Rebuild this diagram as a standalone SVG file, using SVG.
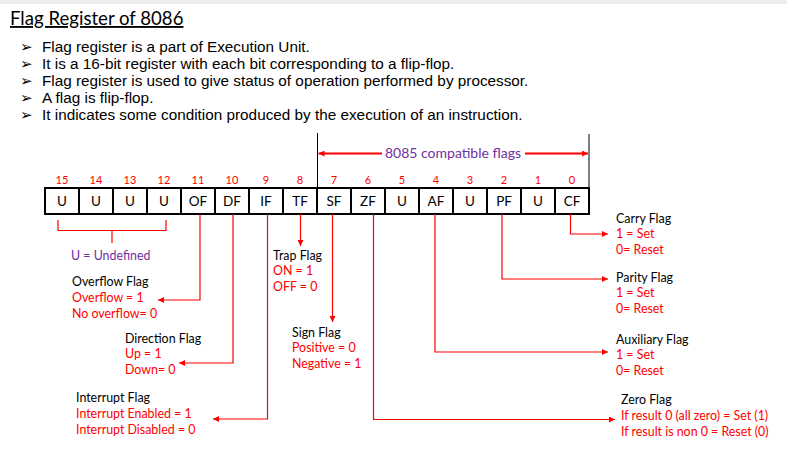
<svg xmlns="http://www.w3.org/2000/svg" width="787" height="454" viewBox="0 0 787 454">
<style>
.t{font-family:Lato,"Noto Sans",sans-serif;font-size:12.4px}
.k{fill:#000}
.r{fill:#FF0000}
.p{fill:#7030A0}
.b{font-family:"Liberation Sans",Arial,sans-serif;font-size:15.3px;fill:#000}
.bl{font-family:"DejaVu Sans",sans-serif;font-size:15px;font-weight:bold;fill:#000}
.cell{fill:#fff;stroke:#000;stroke-width:2}
.ct{font-family:Lato,"Noto Sans",sans-serif;font-size:13.5px;fill:#000;text-anchor:middle}
.num{font-family:Lato,"Noto Sans",sans-serif;font-size:11px;fill:#FF0000;text-anchor:middle}
.c{fill:none;stroke:#FF0000;stroke-width:1.2}
</style>
<defs>
<marker id="ah" viewBox="0 0 10 10" refX="10" refY="5" markerWidth="6" markerHeight="6" markerUnits="userSpaceOnUse" orient="auto">
<path d="M0,0 L10,5 L0,10 z" fill="#FF0000"/>
</marker>
</defs>
<rect x="0" y="0" width="787" height="454" fill="#fff"/>
<rect x="0" y="0" width="787" height="4" fill="#eeeeee"/>
<g id="title">
<text x="10" y="25" font-family="Lato,'Noto Sans',sans-serif" font-size="18.6" fill="#000" text-decoration="underline">Flag Register of 8086</text>
</g>
<g id="bullets">
<text x="20" y="52" class="bl">➢</text><text x="42" y="52" class="b">Flag register is a part of Execution Unit.</text>
<text x="20" y="69" class="bl">➢</text><text x="42" y="69" class="b">It is a 16-bit register with each bit corresponding to a flip-flop.</text>
<text x="20" y="86" class="bl">➢</text><text x="42" y="86" class="b">Flag register is used to give status of operation performed by processor.</text>
<text x="20" y="103" class="bl">➢</text><text x="42" y="103" class="b">A flag is flip-flop.</text>
<text x="20" y="120" class="bl">➢</text><text x="42" y="120" class="b">It indicates some condition produced by the execution of an instruction.</text>
</g>
<g id="register">
<rect x="45" y="188" width="34" height="26" class="cell"/>
<rect x="79" y="188" width="34" height="26" class="cell"/>
<rect x="113" y="188" width="34" height="26" class="cell"/>
<rect x="147" y="188" width="34" height="26" class="cell"/>
<rect x="181" y="188" width="34" height="26" class="cell"/>
<rect x="215" y="188" width="34" height="26" class="cell"/>
<rect x="249" y="188" width="34" height="26" class="cell"/>
<rect x="283" y="188" width="34" height="26" class="cell"/>
<rect x="317" y="188" width="34" height="26" class="cell"/>
<rect x="351" y="188" width="34" height="26" class="cell"/>
<rect x="385" y="188" width="34" height="26" class="cell"/>
<rect x="419" y="188" width="34" height="26" class="cell"/>
<rect x="453" y="188" width="34" height="26" class="cell"/>
<rect x="487" y="188" width="34" height="26" class="cell"/>
<rect x="521" y="188" width="34" height="26" class="cell"/>
<rect x="555" y="188" width="34" height="26" class="cell"/>
<text x="62" y="206" class="ct">U</text>
<text x="96" y="206" class="ct">U</text>
<text x="130" y="206" class="ct">U</text>
<text x="164" y="206" class="ct">U</text>
<text x="198" y="206" class="ct">OF</text>
<text x="232" y="206" class="ct">DF</text>
<text x="266" y="206" class="ct">IF</text>
<text x="300" y="206" class="ct">TF</text>
<text x="334" y="206" class="ct">SF</text>
<text x="368" y="206" class="ct">ZF</text>
<text x="402" y="206" class="ct">U</text>
<text x="436" y="206" class="ct">AF</text>
<text x="470" y="206" class="ct">U</text>
<text x="504" y="206" class="ct">PF</text>
<text x="538" y="206" class="ct">U</text>
<text x="572" y="206" class="ct">CF</text>
<text x="62" y="184" class="num">15</text>
<text x="96" y="184" class="num">14</text>
<text x="130" y="184" class="num">13</text>
<text x="164" y="184" class="num">12</text>
<text x="198" y="184" class="num">11</text>
<text x="232" y="184" class="num">10</text>
<text x="266" y="184" class="num">9</text>
<text x="300" y="184" class="num">8</text>
<text x="334" y="184" class="num">7</text>
<text x="368" y="184" class="num">6</text>
<text x="402" y="184" class="num">5</text>
<text x="436" y="184" class="num">4</text>
<text x="470" y="184" class="num">3</text>
<text x="504" y="184" class="num">2</text>
<text x="538" y="184" class="num">1</text>
<text x="572" y="184" class="num">0</text>
</g>
<g id="compat">
<line x1="317.5" y1="133" x2="317.5" y2="188" stroke="#000" stroke-width="1"/>
<line x1="589" y1="134" x2="589" y2="188" stroke="#000" stroke-width="1"/>
<text x="453" y="158" font-family="Lato,'Noto Sans',sans-serif" font-size="14" fill="#7030A0" text-anchor="middle">8085 compatible flags</text>
</g>
<g id="undef">
<path d="M58,220 V230.5 H112 V243 M112,230.5 H166 V220" class="c" stroke-width="1"/>
<text x="71" y="260" class="t p" font-size="13.5">U = Undefined</text>
</g>
<g id="of"><text x="72" y="286" class="t k">Overflow Flag</text><text x="72" y="302" class="t r">Overflow = 1</text><text x="72" y="318" class="t r">No overflow= 0</text></g>
<g id="df"><text x="125" y="343" class="t k">Direction Flag</text><text x="125" y="358" class="t r">Up = 1</text><text x="125" y="374" class="t r">Down= 0</text></g>
<g id="if"><text x="76" y="402" class="t k">Interrupt Flag</text><text x="76" y="418" class="t r">Interrupt Enabled = 1</text><text x="76" y="434" class="t r">Interrupt Disabled = 0</text></g>
<g id="tf"><text x="273" y="260" class="t k">Trap Flag</text><text x="273" y="275" class="t r">ON = 1</text><text x="273" y="291" class="t r">OFF = 0</text></g>
<g id="sf"><text x="292" y="337" class="t k">Sign Flag</text><text x="292" y="352" class="t r">Positive = 0</text><text x="292" y="368" class="t r">Negative = 1</text></g>
<g id="cf"><text x="616" y="223" class="t k">Carry Flag</text><text x="616" y="238" class="t r">1 = Set</text><text x="616" y="254" class="t r">0= Reset</text></g>
<g id="pf"><text x="616" y="282" class="t k">Parity Flag</text><text x="616" y="297" class="t r">1 = Set</text><text x="616" y="313" class="t r">0= Reset</text></g>
<g id="af"><text x="616" y="344" class="t k">Auxiliary Flag</text><text x="616" y="359" class="t r">1 = Set</text><text x="616" y="375" class="t r">0= Reset</text></g>
<g id="zf"><text x="621" y="404" class="t k">Zero Flag</text><text x="621" y="420" class="t r">If result 0 (all zero) = Set (1)</text><text x="621" y="436" class="t r">If result is non 0 = Reset (0)</text></g>
<g id="connectors">
<line x1="382" y1="153.5" x2="318.5" y2="153.5" stroke="#FF0000" stroke-width="2" marker-end="url(#ah)"/>
<line x1="525" y1="153.5" x2="588" y2="153.5" stroke="#FF0000" stroke-width="2" marker-end="url(#ah)"/>
<path d="M200,214 V300 H158" class="c" marker-end="url(#ah)"/>
<path d="M233,214 V363 H179" class="c" marker-end="url(#ah)"/>
<path d="M267.5,214 V419 H213" class="c" marker-end="url(#ah)"/>
<path d="M300.5,214 V246" class="c" marker-end="url(#ah)"/>
<path d="M332.5,214 V322" class="c" marker-end="url(#ah)"/>
<path d="M373.5,214 V419.5 H615" class="c" marker-end="url(#ah)"/>
<path d="M435,214 V352 H608" class="c" marker-end="url(#ah)"/>
<path d="M502,214 V279 H608" class="c" marker-end="url(#ah)"/>
<path d="M570.5,214 V234 H608" class="c" marker-end="url(#ah)"/>
</g>
</svg>
